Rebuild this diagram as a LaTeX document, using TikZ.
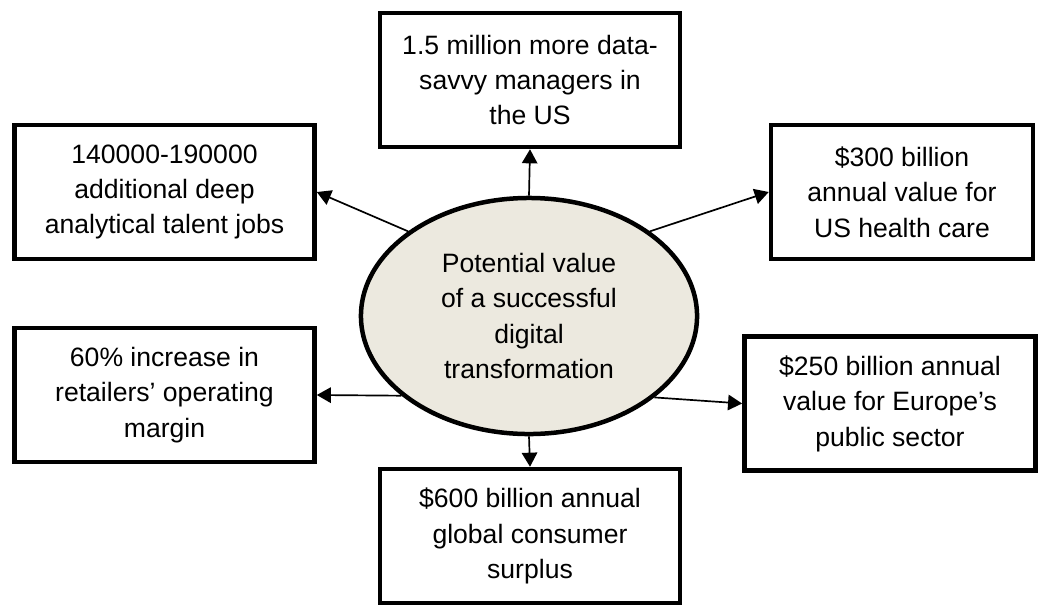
\documentclass[tikz,border=0pt]{standalone}
\usepackage{fontspec}
\setmainfont{Liberation Sans}
\usepackage{tikz}
\usepackage{xcolor}
\usetikzlibrary{
  shapes.geometric, arrows.meta
}
\definecolor{corefill}{RGB}{236,233,223}

\begin{document}
\begin{tikzpicture}
    [x=0.025cm, y=-0.025cm,
     font=\fontsize{18.9}{25.2}\selectfont,
     box/.style={rectangle,draw=black,line width=3.2pt,fill=white,align=center,
                 minimum width=7.5cm,minimum height=3.35cm,inner sep=0pt},
     core/.style={ellipse,draw=black,line width=3.2pt,fill=corefill,align=center,
                  minimum width=8.4cm,minimum height=5.9cm,inner sep=0pt},
     link/.style={line width=1.2pt,-{Triangle[length=10pt,width=11pt]}}]
    \useasboundingbox (0,0) rectangle (1040,607);

    \node (C) at (529,316) [core] {Potential value\\of a successful\\digital\\transformation};

    \node (B1) at (530,80) [box] {1.5 million more data-\\savvy managers in\\the US};
    \node (B2) at (164.5,192) [box] {140000-190000\\additional deep\\analytical talent jobs};
    \node (B3) at (902,192) [box,minimum width=6.55cm] {\$300 billion\\annual value for\\US health care};
    \node (B4) at (164.5,395) [box] {60\% increase in\\retailers’ operating\\margin};
    \node (B5) at (890,403.5) [box,minimum width=7.28cm] {\$250 billion annual\\value for Europe’s\\public sector};
    \node (B6) at (530,536) [box] {\$600 billion annual\\global consumer\\surplus};

    \draw[link] (C.north) -- (B1.south);
    \draw[link] (C.145) -- (B2.east);
    \draw[link] (C.35) -- (B3.west);
    \draw[link] (C.212) -- (B4.east);
    \draw[link] (C.-33) -- (B5.west);
    \draw[link] (C.south) -- (B6.north);
\end{tikzpicture}
\end{document}
